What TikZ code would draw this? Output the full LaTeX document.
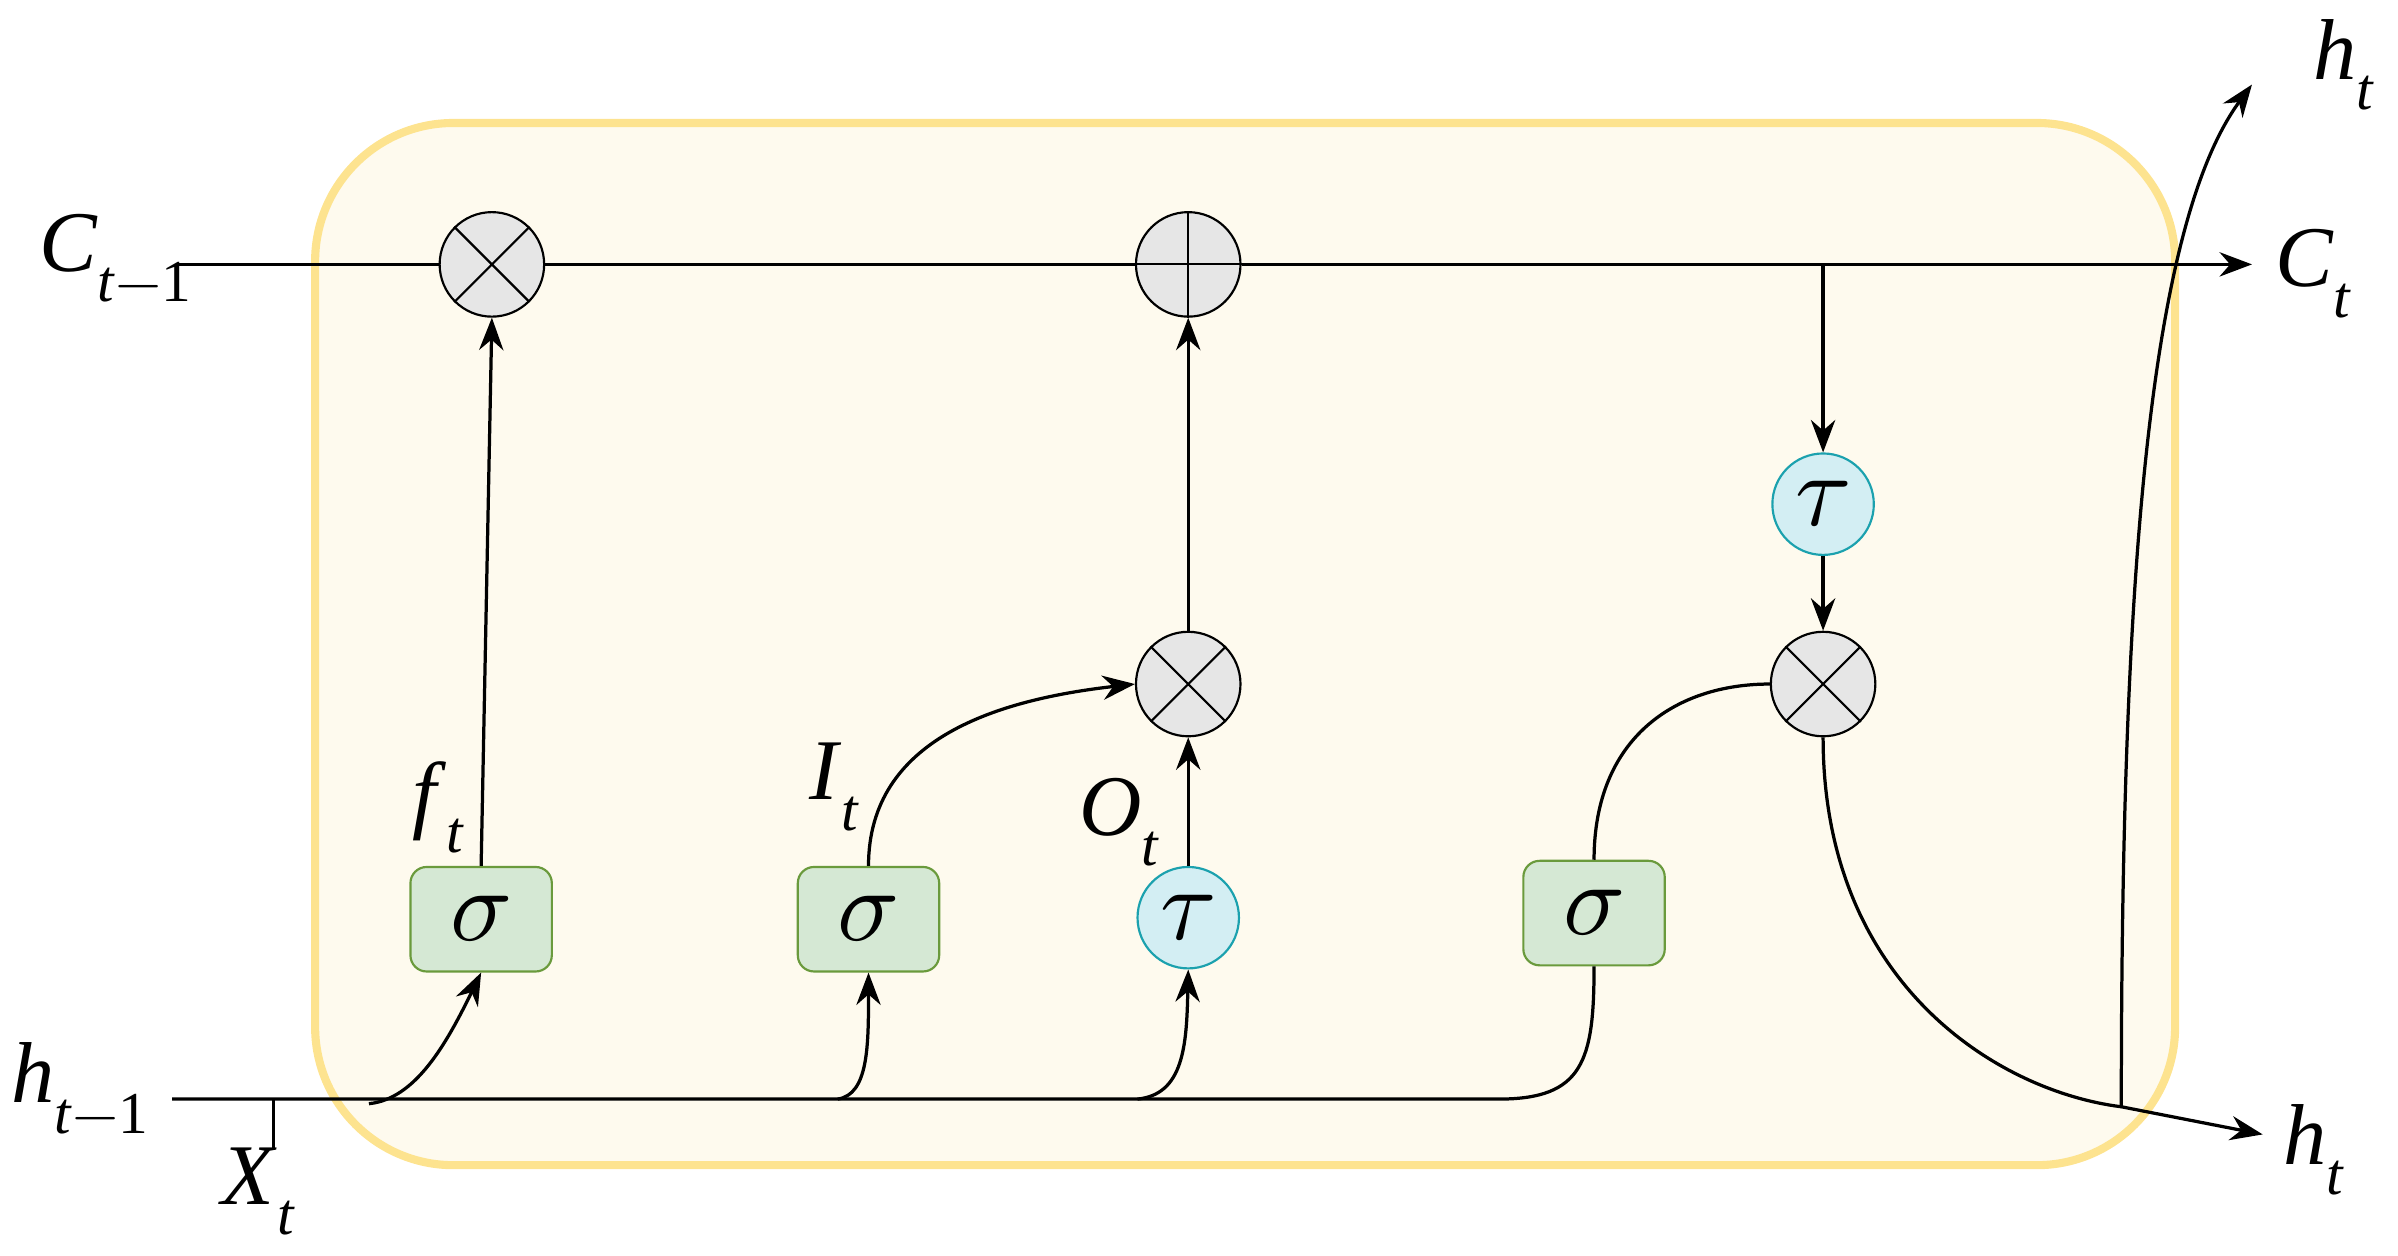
\documentclass[tikz,border=0pt]{standalone}
\usepackage{fontspec}
\setmainfont{Liberation Serif}
\usepackage{unicode-math}
\setmathfont{Latin Modern Math}
\usetikzlibrary{arrows.meta}
\definecolor{cream}{HTML}{FEFAEE}
\definecolor{gold}{HTML}{FDE38F}
\definecolor{grayf}{HTML}{E6E6E6}
\definecolor{cyanf}{HTML}{D3EEF3}
\definecolor{teal}{HTML}{1BA1AE}
\definecolor{greenf}{HTML}{D5E8D4}
\definecolor{greend}{HTML}{6A9A3C}
\newcommand{\lv}[2]{\textit{#1}\raisebox{-0.35em}{\fontsize{22}{24}\selectfont\textit{#2}}}
\begin{document}
\begin{tikzpicture}[x=0.02cm,y=-0.02cm,
  line width=1.2pt,
  arr/.style={-{Stealth[length=12pt,width=9pt]}},
  op/.style={circle,draw,line width=0.8pt,fill=grayf,minimum size=1.36cm,inner sep=0},
  tau/.style={circle,draw=teal,line width=0.8pt,fill=cyanf,minimum size=1.32cm,inner sep=0,font=\fontsize{38}{40}\selectfont},
  sig/.style={draw=greend,line width=0.8pt,fill=greenf,minimum width=1.84cm,minimum height=1.36cm,rounded corners=6pt,font=\fontsize{38}{40}\selectfont},
  lab/.style={font=\fontsize{32}{38}\selectfont}]
\useasboundingbox (0,0) rectangle (1560,817);
\draw[gold,line width=3pt,fill=cream,rounded corners=1.8cm] (205,80) rectangle (1415,758);
% nodes
\node[op] (m1) at (320,172) {};
\node[op] (p1) at (773,172) {};
\node[op] (m2) at (773,445) {};
\node[op] (m3) at (1186,445) {};
\foreach \n in {m1,m2,m3}{
  \draw[line width=0.8pt] (\n.45)--(\n.225) (\n.135)--(\n.315);}
\draw[line width=0.8pt] (p1.north)--(p1.south) (p1.west)--(p1.east);
\node[tau] (t1) at (1186,328) {$\boldsymbol{\tau}$};
\node[tau] (t2) at (773,597) {$\boldsymbol{\tau}$};
\node[sig] (s1) at (313,598) {$\boldsymbol{\sigma}$};
\node[sig] (s2) at (565,598) {$\boldsymbol{\sigma}$};
\node[sig] (s3) at (1037,594) {$\boldsymbol{\sigma}$};
% labels
\node[lab] (cin) at (75,168) {\lv{C}{t}\raisebox{-0.35em}{\fontsize{22}{24}\selectfont$-$1}};
\node[lab] (cout) at (1505,178) {\lv{C}{t}};
\node[lab] (hin) at (52,708) {\lv{h}{t}\raisebox{-0.35em}{\fontsize{22}{24}\selectfont$-$1}};
\node[lab] (hout) at (1505,748) {\lv{h}{t}};
\node[lab] (htop) at (1525,42) {\lv{h}{t}};
\node[lab] (xt) at (168,775) {\lv{X}{t}};
\node[lab] at (285,525) {\lv{f}{t}};
\node[lab] at (543,512) {\lv{I}{t}};
\node[lab] at (728,535) {\lv{O}{t}};
% coordinates
\coordinate (cs) at (115,172);
\coordinate (ce) at (1465,172);
\coordinate (tj) at (1186,172);
\coordinate (hs) at (112,715);
\coordinate (xj) at (178,715);
\coordinate (xb) at (178,748);
\coordinate (hj) at (1380,720);
\coordinate (he) at (1472,738);
\coordinate (ht) at (1465,55);
% cell line
\draw (cs)--(m1.west) (m1.east)--(p1.west);
\draw[arr] (p1.east)--(ce);
\draw[arr] (tj)--(t1.north);
\draw[arr] (t1.south)--(m3.north);
\draw[arr] (m2.north)--(p1.south);
\draw[arr] (s1.north)--(m1.south);
\draw[arr] (t2.north)--(m2.south);
\draw[arr] (s2.north) .. controls (565,480) and (650,455) .. (m2.west);
\draw (s3.north) .. controls (1037,480) and (1090,445) .. (m3.west);
\draw[arr] (m3.south) .. controls (1186,640) and (1300,710) .. (hj) -- (he);
\draw[arr] (hj) .. controls (1380,400) and (1395,150) .. (ht);
% hidden input
\draw (hs)--(975,715) .. controls (1030,715) and (1037,690) .. (s3.south);
\draw (xj)--(xb);
\draw[arr] (240,718) .. controls (270,715) and (290,680) .. (s1.south);
\draw[arr] (545,715) .. controls (565,712) and (565,680) .. (s2.south);
\draw[arr] (740,715) .. controls (770,712) and (772,680) .. (t2.south);
\end{tikzpicture}
\end{document}
